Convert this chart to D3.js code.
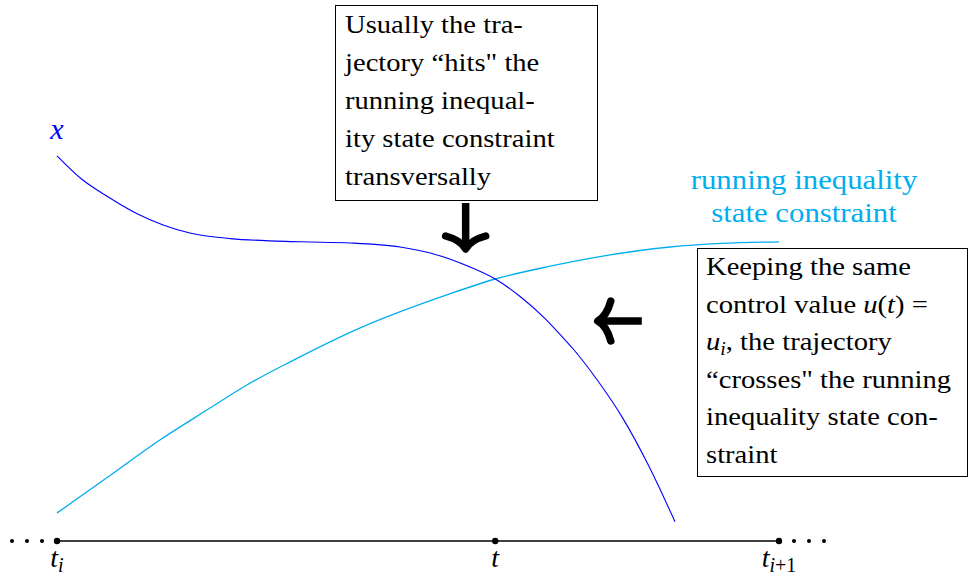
<!DOCTYPE html>
<html>
<head>
<meta charset="utf-8">
<script src="https://cdn.jsdelivr.net/npm/d3@7"></script>
<style>
  html, body { margin: 0; padding: 0; background: #fff; }
  svg { display: block; }
  svg text { font-family: "Liberation Serif", "Times New Roman", Times, "DejaVu Serif", serif; }
</style>
</head>
<body>
<div id="chart"></div>
<script>
// Trajectory x(t) and the running inequality state constraint
// time runs from t_i = 0 to t_{i+1} = 10, state from the time axis (0) upward
const trajT = [0, 0.34, 0.71, 1.11, 1.47, 1.84, 2.40, 3.37, 4.06, 4.75, 5.17, 5.72,
               6.07, 6.41, 6.76, 6.97, 7.15, 7.48, 7.84, 8.19, 8.56];
const trajX = [9.63, 9.05, 8.60, 8.18, 7.90, 7.70, 7.56, 7.48, 7.45, 7.35, 7.20, 6.85,
               6.55, 6.12, 5.56, 5.16, 4.80, 4.03, 3.06, 1.90, 0.48];

const constrT = [0, 0.69, 1.43, 2.08, 2.63, 3.23, 4.20, 5.44, 6.07, 6.83, 7.52, 8.49, 9.20, 10.0];
const constrX = [0.70, 1.58, 2.53, 3.28, 3.90, 4.48, 5.33, 6.18, 6.55, 6.87, 7.11, 7.35, 7.44, 7.48];

// time axis marks
const tickTimes  = [0, 6.07, 10];
const tickLabels = [["t", "i"], ["t", ""], ["t", "i+1"]];

const boxTopLines = [
  "Usually the tra-",
  "jectory \u201chits\" the",
  "running inequal-",
  "ity state constraint",
  "transversally"
];
const boxRightLines = [
  [["Keeping the same", "n"]],
  [["control value ", "n"], ["u", "i"], ["(", "n"], ["t", "i"], [") =", "n"]],
  [["u", "i"], ["i", "sub"], [", the trajectory", "n"]],
  [["\u201ccrosses\" the running", "n"]],
  [["inequality state con-", "n"]],
  [["straint", "n"]]
];
const constrLabel = ["running inequality", "state constraint"];

const width = 968, height = 575;
const BLUE = "#0000ff", CYAN = "#00aeef";
const stretch = 1.1;   // widen Times glyphs toward Computer Modern

const svg = d3.select("#chart").append("svg")
  .attr("width", width)
  .attr("height", height);

const x = d3.scaleLinear().domain([0, 10]).range([57, 779]);
const y = d3.scaleLinear().domain([0, 10]).range([541, 141]);

// Curves
const line = d3.line()
  .x(d => x(d[0]))
  .y(d => y(d[1]))
  .curve(d3.curveMonotoneX);

svg.append("path")
  .datum(d3.zip(constrT, constrX))
  .attr("d", line)
  .attr("fill", "none")
  .attr("stroke", CYAN)
  .attr("stroke-width", 1.3);

svg.append("path")
  .datum(d3.zip(trajT, trajX))
  .attr("d", line)
  .attr("fill", "none")
  .attr("stroke", BLUE)
  .attr("stroke-width", 1.1);

// Time axis
svg.append("line")
  .attr("x1", x(0)).attr("x2", x(10))
  .attr("y1", y(0)).attr("y2", y(0))
  .attr("stroke", "#000")
  .attr("stroke-width", 1.4);

svg.append("g")
  .selectAll("circle")
  .data(tickTimes)
  .join("circle")
    .attr("cx", d => x(d))
    .attr("cy", y(0))
    .attr("r", 3.2)
    .attr("fill", "#000");

// ellipsis dots either side
const dotGap = 15;
const dots = [1, 2, 3].flatMap(k => [x(0) - k * dotGap, x(10) + k * dotGap]);
svg.append("g")
  .selectAll("circle")
  .data(dots)
  .join("circle")
    .attr("cx", d => d)
    .attr("cy", y(0))
    .attr("r", 2)
    .attr("fill", "#000");

// tick labels
const tl = svg.append("g")
  .selectAll("text")
  .data(tickTimes)
  .join("text")
    .attr("x", d => x(d))
    .attr("y", 567)
    .attr("text-anchor", "middle")
    .attr("font-size", 28);

tl.each(function (d, i) {
  const t = d3.select(this);
  const [main, sub] = tickLabels[i];
  t.append("tspan").attr("font-style", "italic").text(main);
  if (sub) {
    const parts = sub.match(/^(i)(.*)$/);
    t.append("tspan").attr("font-size", 20).attr("dy", 5)
      .attr("font-style", "italic").text(parts[1]);
    if (parts[2]) t.append("tspan").attr("font-size", 20).text(parts[2]);
  }
});

// x label
svg.append("text")
  .attr("x", x(0))
  .attr("y", 139)
  .attr("text-anchor", "middle")
  .attr("font-style", "italic")
  .attr("font-size", 30)
  .attr("fill", BLUE)
  .text("x");

// constraint label
svg.append("g")
  .selectAll("text")
  .data(constrLabel)
  .join("text")
    .attr("transform", (d, i) => `translate(804,${189 + i * 33}) scale(${stretch},1)`)
    .attr("text-anchor", "middle")
    .attr("font-size", 28)
    .attr("fill", CYAN)
    .text(d => d);

// Boxes
function textBox(x0, y0, x1, y1) {
  svg.append("rect")
    .attr("x", x0 + 0.5).attr("y", y0 + 0.5)
    .attr("width", x1 - x0).attr("height", y1 - y0)
    .attr("fill", "#fff")
    .attr("stroke", "#000")
    .attr("stroke-width", 1);
}

textBox(335, 5, 597, 200);
svg.append("g")
  .selectAll("text")
  .data(boxTopLines)
  .join("text")
    .attr("transform", (d, i) => `translate(345,${33 + i * 38}) scale(${stretch},1)`)
    .attr("font-size", 26)
    .attr("fill", "#000")
    .text(d => d);

textBox(697, 248, 967, 476);
svg.append("g")
  .selectAll("text")
  .data(boxRightLines)
  .join("text")
    .attr("transform", (d, i) => `translate(706,${275 + i * 37.6}) scale(${stretch},1)`)
    .attr("font-size", 26)
    .attr("fill", "#000")
    .each(function (parts) {
      const t = d3.select(this);
      const hasSub = parts.some(p => p[1] === "sub");
      parts.forEach(([s, kind], j) => {
        const sp = t.append("tspan").text(s);
        if (kind === "i") sp.attr("font-style", "italic");
        if (kind === "sub") sp.attr("font-style", "italic").attr("font-size", 18).attr("dy", 5);
        else if (hasSub && j > 0) sp.attr("dy", -5);
      });
    });

// Thick arrows
function arrow(tx, ty, angle, len) {
  const g = svg.append("g")
    .attr("transform", `translate(${tx},${ty}) rotate(${angle})`)
    .attr("fill", "none")
    .attr("stroke", "#000")
    .attr("stroke-width", 7.5);
  g.append("line")
    .attr("x1", -len).attr("x2", -3)
    .attr("y1", 0).attr("y2", 0);
  g.append("path")
    .attr("d", "M-13,-20 Q-9,-5 0,0 Q-9,5 -13,20")
    .attr("stroke-linecap", "round")
    .attr("stroke-linejoin", "round");
}

arrow(x(5.66), y(7.3), 90, 46);
arrow(x(7.49), y(5.5), 180, 44);
</script>
</body>
</html>
